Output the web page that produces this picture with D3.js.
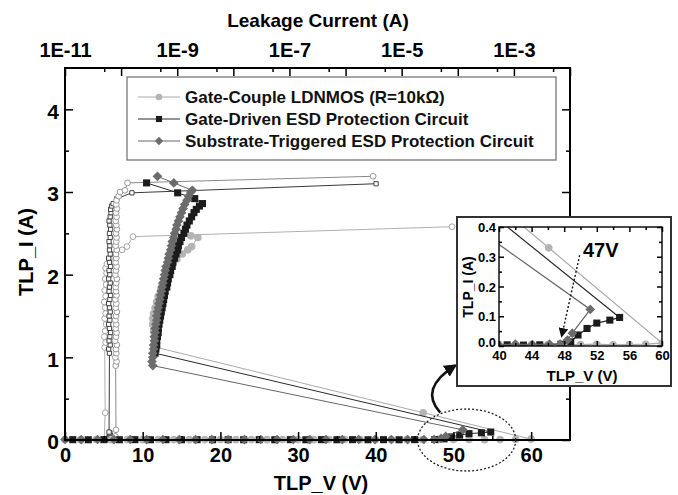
<!DOCTYPE html>
<html>
<head>
<meta charset="utf-8">
<script src="https://cdn.jsdelivr.net/npm/d3@7"></script>
<style>
  body { margin: 0; background: #fff; }
  svg { display: block; font-family: "Liberation Sans", Arial, sans-serif; }
</style>
</head>
<body>
<svg id="chart" width="678" height="495"></svg>
<script>
// ---- series labels ----
const legendLabels = [
  'Gate-Couple LDNMOS (R=10k\u03A9)',
  'Gate-Driven ESD Protection Circuit',
  'Substrate-Triggered ESD Protection Circuit'
];

// ---- TLP I-V data: [TLP_V (V), TLP_I (A)] ----
const gcTLP = [
  [0,0.005],[2,0.004],[4,0.006],[6,0.004],[8,0.005],[10,0.004],[12,0.006],[14,0.005],[16,0.004],[18,0.005],
  [20,0.006],[22,0.004],[24,0.005],[26,0.004],[28,0.006],[30,0.005],[32,0.004],[34,0.005],[36,0.006],[38,0.004],
  [40,0.005],[42,0.004],[44,0.006],[46,0.005],[48,0.004],[50,0.005],[52,0.006],[54,0.004],[56,0.005],[58,0.006],
  [60,0.010],[46.1,0.330],
  [11.8,1.12],[11.6,1.18],[11.5,1.25],[11.4,1.32],[11.3,1.40],[11.3,1.47],[11.4,1.53],[11.6,1.60],[11.8,1.67],
  [12.0,1.74],[12.3,1.81],[12.5,1.88],[12.8,1.95],[13.1,2.02],[13.5,2.08],[13.8,2.13],[14.4,2.19],[15.1,2.25],
  [15.8,2.30],[16.3,2.34],[17.1,2.45],[16.2,2.47]
];
const gdTLP = [
  [1,0.004],[3,0.003],[5,0.004],[7,0.003],[9,0.004],[11,0.003],[13,0.004],[15,0.003],[17,0.004],[19,0.003],
  [21,0.004],[23,0.003],[25,0.004],[27,0.003],[29,0.004],[31,0.003],[33,0.004],[35,0.003],[37,0.004],[39,0.003],
  [41,0.004],[43,0.003],[45,0.004],[47.6,0.006],[48.8,0.014],[49.7,0.037],[50.8,0.059],[52.0,0.077],[53.6,0.087],[54.8,0.096],
  [11.6,1.05],[11.7,1.10],[11.8,1.15],[11.8,1.20],[11.9,1.25],[12.0,1.30],[12.0,1.35],[12.1,1.40],[12.2,1.45],[12.3,1.50],
  [12.4,1.55],[12.5,1.60],[12.6,1.65],[12.7,1.70],[12.8,1.75],[12.9,1.80],[13.1,1.85],[13.2,1.90],[13.3,1.95],[13.5,2.00],
  [13.6,2.05],[13.8,2.10],[13.9,2.15],[14.1,2.20],[14.3,2.25],[14.5,2.30],[14.6,2.35],[14.8,2.40],[15.0,2.45],[15.3,2.50],
  [15.5,2.55],[15.7,2.60],[16.0,2.65],[16.3,2.70],[16.6,2.75],[16.9,2.79],[17.3,2.83],[17.7,2.86],[16.7,2.92],[14.5,2.99],
  [10.5,3.11]
];
const stTLP = [
  [0,0.006],[2.1,0.005],[4.2,0.006],[6.3,0.005],[8.4,0.006],[10.5,0.005],[12.6,0.006],[14.7,0.005],[16.8,0.006],[18.9,0.005],
  [21,0.006],[23.1,0.005],[25.2,0.006],[27.3,0.005],[29.4,0.006],[31.5,0.005],[33.6,0.006],[35.7,0.005],[37.8,0.006],[39.9,0.005],
  [42,0.006],[44.1,0.005],[46.2,0.006],[47.5,0.006],[48.4,0.020],[49.0,0.043],[51.2,0.123],
  [11.3,0.90],[11.2,0.95],[11.3,1.00],[11.3,1.05],[11.4,1.10],[11.4,1.15],[11.5,1.20],[11.5,1.25],[11.6,1.30],[11.6,1.35],
  [11.7,1.40],[11.8,1.45],[11.8,1.50],[11.9,1.55],[12.0,1.60],[12.1,1.65],[12.2,1.70],[12.3,1.75],[12.4,1.80],[12.5,1.85],
  [12.6,1.90],[12.7,1.95],[12.8,2.00],[12.9,2.05],[13.0,2.10],[13.2,2.15],[13.3,2.20],[13.4,2.25],[13.6,2.30],[13.7,2.35],
  [13.8,2.40],[14.0,2.45],[14.1,2.50],[14.3,2.55],[14.4,2.60],[14.6,2.65],[14.8,2.70],[15.0,2.75],[15.2,2.80],[15.4,2.85],
  [15.7,2.90],[15.9,2.95],[16.2,3.00],[16.4,3.02],[14.0,3.11],[11.9,3.19]
];

// ---- leakage data after each stress: [Leakage (A), TLP_I (A)] ----
const gcLeak = [
  [5.1e-11,0.004],[5.3e-11,0.006],[5.0e-11,0.010],[5.2e-11,0.330],
  [5.1e-11,1.12],[5.3e-11,1.18],[5.0e-11,1.25],[5.2e-11,1.32],[5.4e-11,1.40],[5.1e-11,1.47],[5.3e-11,1.53],
  [5.2e-11,1.60],[5.0e-11,1.67],[5.3e-11,1.74],[5.1e-11,1.81],[5.4e-11,1.88],[5.2e-11,1.95],[5.5e-11,2.02],
  [5.3e-11,2.08],[5.6e-11,2.13],[6.2e-11,2.19],[7.4e-11,2.25],[1.04e-10,2.30],[1.27e-10,2.34],[1.63e-10,2.46],
  [7.9e-5,2.58]
];
const gdLeak = [
  [6.0e-11,0.003],[6.2e-11,0.006],[6.3e-11,0.014],[6.1e-11,0.037],[6.4e-11,0.059],[6.2e-11,0.077],[6.3e-11,0.087],[6.1e-11,0.096],
  [6.2e-11,1.05],[6.0e-11,1.10],[6.4e-11,1.15],[6.1e-11,1.20],[6.3e-11,1.25],[6.5e-11,1.30],[6.2e-11,1.35],[6.0e-11,1.40],
  [6.3e-11,1.45],[6.1e-11,1.50],[6.4e-11,1.55],[6.2e-11,1.60],[6.0e-11,1.65],[6.3e-11,1.70],[6.5e-11,1.75],[6.1e-11,1.80],
  [6.2e-11,1.85],[6.4e-11,1.90],[6.0e-11,1.95],[6.3e-11,2.00],[6.1e-11,2.05],[6.5e-11,2.10],[6.2e-11,2.15],[6.0e-11,2.20],
  [6.4e-11,2.25],[6.2e-11,2.30],[6.3e-11,2.35],[6.1e-11,2.40],[6.4e-11,2.45],[6.2e-11,2.50],[6.5e-11,2.55],[6.3e-11,2.60],
  [6.1e-11,2.65],[6.4e-11,2.70],[6.6e-11,2.75],[6.5e-11,2.79],[6.8e-11,2.83],[7.2e-11,2.86],[8.4e-11,2.92],[1.56e-10,2.99],
  [3.5e-6,3.10]
];
const stLeak = [
  [8.0e-11,0.006],[8.2e-11,0.020],[7.9e-11,0.043],[8.1e-11,0.123],
  [8.0e-11,0.90],[8.3e-11,0.95],[7.9e-11,1.00],[8.2e-11,1.05],[8.1e-11,1.10],[8.4e-11,1.15],[7.8e-11,1.20],[8.1e-11,1.25],
  [8.3e-11,1.30],[8.0e-11,1.35],[8.2e-11,1.40],[7.9e-11,1.45],[8.1e-11,1.50],[8.4e-11,1.55],[8.0e-11,1.60],[8.2e-11,1.65],
  [7.9e-11,1.70],[8.3e-11,1.75],[8.1e-11,1.80],[8.0e-11,1.85],[8.2e-11,1.90],[8.4e-11,1.95],[7.9e-11,2.00],[8.1e-11,2.05],
  [8.3e-11,2.10],[8.0e-11,2.15],[8.2e-11,2.20],[8.1e-11,2.25],[8.4e-11,2.30],[8.0e-11,2.35],[8.2e-11,2.40],[8.3e-11,2.45],
  [8.1e-11,2.50],[8.4e-11,2.55],[8.2e-11,2.60],[8.0e-11,2.65],[8.3e-11,2.70],[8.1e-11,2.75],[8.4e-11,2.80],[8.2e-11,2.85],
  [8.3e-11,2.90],[9.0e-11,2.95],[9.6e-11,3.00],[1.17e-10,3.02],[1.3e-10,3.11],[3.1e-6,3.19]
];

// ---- axis ticks ----
const vMajor = [0,10,20,30,40,50,60], vMinor = [5,15,25,35,45,55];
const iMajor = [0,1,2,3,4], iMinor = [0.5,1.5,2.5,3.5];
const leakMajor = [1e-11,1e-10,1e-9,1e-8,1e-7,1e-6,1e-5,1e-4,1e-3,1e-2];
const leakMinor = [5e-11,5e-10,5e-9,5e-8,5e-7,5e-6,5e-5,5e-4,5e-3];
const leakLabelled = [1e-11,1e-9,1e-7,1e-5,1e-3];
const insetVMajor = [40,44,48,52,56,60], insetVMinor = [42,46,50,54,58];
const insetIMajor = [0,0.1,0.2,0.3,0.4], insetIMinor = [0.05,0.15,0.25,0.35];

// ---- annotation values ----
const triggerText = '47V';
const triggerArrowFrom = [49.9, 0.305];   // [V, A] in the inset
const triggerArrowTo = [47.7, 0.034];

const FONT = '"Liberation Sans", Arial, sans-serif';
const svg = d3.select('#chart');

const x = d3.scaleLinear().domain([0, 65]).range([65, 570]);
const y = d3.scaleLinear().domain([0, 4.5]).range([440, 68]);
const xLeak = d3.scaleLog().domain([1e-11, 1e-2]).range([65, 570]);

const diamond = d3.symbolDiamond2 || d3.symbolDiamond;
const series = [
  { label: legendLabels[0], tlp: gcTLP, leak: gcLeak, fill: '#b4b4b4', line: '#aaaaaa',
    symbol: d3.symbolCircle, size: 46, leakStroke: '#9c9c9c', leakLine: '#b0b0b0', leakSymbol: d3.symbolCircle, leakSize: 26 },
  { label: legendLabels[1], tlp: gdTLP, leak: gdLeak, fill: '#1c1c1c', line: '#2a2a2a',
    symbol: d3.symbolSquare, size: 50, leakStroke: '#333333', leakLine: '#3a3a3a', leakSymbol: d3.symbolSquare, leakSize: 18 },
  { label: legendLabels[2], tlp: stTLP, leak: stLeak, fill: '#6c6c6c', line: '#666666',
    symbol: diamond, size: 60, leakStroke: '#8c8c8c', leakLine: '#8a8a8a', leakSymbol: d3.symbolCircle, leakSize: 26 }
];

const defs = svg.append('defs');
defs.append('clipPath').attr('id', 'insetClip')
  .append('rect').attr('x', 499).attr('y', 227).attr('width', 163).attr('height', 119);
defs.append('marker').attr('id', 'headBig').attr('viewBox', '0 0 10 10')
  .attr('refX', 8).attr('refY', 5).attr('markerWidth', 5).attr('markerHeight', 5)
  .attr('markerUnits', 'strokeWidth').attr('orient', 'auto')
  .append('path').attr('d', 'M0,0 L10,5 L0,10 Z').attr('fill', '#111');
defs.append('marker').attr('id', 'headSmall').attr('viewBox', '0 0 10 10')
  .attr('refX', 8).attr('refY', 5).attr('markerWidth', 7).attr('markerHeight', 7)
  .attr('markerUnits', 'strokeWidth').attr('orient', 'auto')
  .append('path').attr('d', 'M0,0 L10,5 L0,10 Z').attr('fill', '#111');

function drawLineAndMarks(g, data, xs, ys, opt) {
  g.append('path').datum(data)
    .attr('fill', 'none').attr('stroke', opt.line).attr('stroke-width', opt.lw || 1)
    .attr('d', d3.line().x(d => xs(d[0])).y(d => ys(d[1])));
  g.selectAll(null).data(data).enter().append('path')
    .attr('transform', d => `translate(${xs(d[0])},${ys(d[1])})`)
    .attr('d', d3.symbol().type(opt.symbol).size(opt.size))
    .attr('fill', opt.open ? '#fff' : opt.fill)
    .attr('stroke', opt.open ? opt.stroke : 'none')
    .attr('stroke-width', opt.open ? 0.9 : 0);
}

function styleAxis(g, fontSize) {
  g.select('.domain').remove();
  g.selectAll('.tick line').attr('stroke', '#000').attr('stroke-width', 1.5);
  g.selectAll('.tick text').attr('fill', '#000').attr('font-size', fontSize)
    .attr('font-weight', 'bold').attr('font-family', FONT);
}

function addAxis(parent, gen, transform, values, size, pad, fmt, fontSize) {
  const g = parent.append('g').attr('transform', transform)
    .call(gen.tickValues(values).tickSize(size).tickPadding(pad).tickFormat(fmt));
  styleAxis(g, fontSize);
  return g;
}
const none = () => '';

// ---------- main plot ----------
const main = svg.append('g');

// leakage curves (top axis) then TLP curves (bottom axis)
series.forEach(s => drawLineAndMarks(main, s.leak, xLeak, y,
  { line: s.leakLine, symbol: s.leakSymbol, size: s.leakSize, open: true, stroke: s.leakStroke, lw: 1 }));
series.forEach(s => drawLineAndMarks(main, s.tlp, x, y,
  { line: s.line, symbol: s.symbol, size: s.size, fill: s.fill, lw: 1 }));

// frame
main.append('rect').attr('x', 65).attr('y', 68).attr('width', 505).attr('height', 372)
  .attr('fill', 'none').attr('stroke', '#000').attr('stroke-width', 2);

// axes with inward ticks
addAxis(main, d3.axisBottom(x), 'translate(0,440)', vMajor, -8, 8, d3.format('d'), 20);
addAxis(main, d3.axisBottom(x), 'translate(0,440)', vMinor, -4, 0, none, 20);
addAxis(main, d3.axisLeft(y), 'translate(65,0)', iMajor, -8, 6, d3.format('d'), 21)
  .selectAll('.tick text').attr('dy', '0.42em');
addAxis(main, d3.axisLeft(y), 'translate(65,0)', iMinor, -4, 0, none, 20);
addAxis(main, d3.axisRight(y), 'translate(570,0)', iMajor, -8, 0, none, 20);
addAxis(main, d3.axisRight(y), 'translate(570,0)', iMinor, -4, 0, none, 20);
const leakFmt = d => leakLabelled.some(v => Math.abs(v - d) / v < 1e-6) ? '1E' + Math.round(Math.log10(d)) : '';
addAxis(main, d3.axisTop(xLeak), 'translate(0,68)', leakMajor, -8, 11, leakFmt, 20);
addAxis(main, d3.axisTop(xLeak), 'translate(0,68)', leakMinor, -4, 0, none, 20);

// axis titles
main.append('text').attr('x', 318).attr('y', 27).attr('text-anchor', 'middle')
  .attr('font-size', 19).attr('font-weight', 'bold').attr('font-family', FONT).text('Leakage Current (A)');
main.append('text').attr('x', 321).attr('y', 490).attr('text-anchor', 'middle')
  .attr('font-size', 20).attr('font-weight', 'bold').attr('font-family', FONT).text('TLP_V (V)');
main.append('text').attr('transform', 'translate(33,252) rotate(-90)').attr('text-anchor', 'middle')
  .attr('font-size', 20).attr('font-weight', 'bold').attr('font-family', FONT).text('TLP_I (A)');

// legend
const lg = main.append('g');
lg.append('rect').attr('x', 127).attr('y', 77).attr('width', 429).attr('height', 83)
  .attr('fill', '#fff').attr('stroke', '#777').attr('stroke-width', 1.3);
series.forEach((s, i) => {
  const cy = 97 + i * 22;
  lg.append('line').attr('x1', 138).attr('x2', 180).attr('y1', cy).attr('y2', cy)
    .attr('stroke', s.line).attr('stroke-width', 1.2);
  lg.append('path').attr('transform', `translate(159,${cy})`)
    .attr('d', d3.symbol().type(s.symbol).size(s.size * 0.75)).attr('fill', s.fill);
  lg.append('text').attr('x', 185).attr('y', cy).attr('dy', '0.36em')
    .attr('font-size', 17).attr('font-weight', 'bold').attr('font-family', FONT).attr('fill', '#111')
    .text(s.label);
});

// dotted ellipse around the trigger region and curved pointer to the inset
main.append('ellipse').attr('cx', x(51.7)).attr('cy', y(0)).attr('rx', 49).attr('ry', 31)
  .attr('fill', 'none').attr('stroke', '#222').attr('stroke-width', 1.3).attr('stroke-dasharray', '2,2');
main.append('path')
  .attr('d', `M${x(48.3)},${y(0.33)} Q${x(45.5)},${y(0.62)} ${x(50.2)},${y(0.9)}`)
  .attr('fill', 'none').attr('stroke', '#111').attr('stroke-width', 2.6)
  .attr('marker-end', 'url(#headBig)');

// ---------- inset ----------
const ix = d3.scaleLinear().domain([40, 60]).range([499, 662]);
const iy = d3.scaleLinear().domain([0, 0.4]).range([346, 227]);
const inset = svg.append('g');
inset.append('rect').attr('x', 457).attr('y', 217).attr('width', 214).attr('height', 169)
  .attr('fill', '#fff').attr('stroke', '#333').attr('stroke-width', 2);

const insetData = inset.append('g').attr('clip-path', 'url(#insetClip)');
series.forEach(s => drawLineAndMarks(insetData, s.tlp, ix, iy,
  { line: s.line, symbol: s.symbol, size: s.size, fill: s.fill, lw: 1.2 }));

inset.append('rect').attr('x', 499).attr('y', 227).attr('width', 163).attr('height', 119)
  .attr('fill', 'none').attr('stroke', '#111').attr('stroke-width', 1.5);

addAxis(inset, d3.axisBottom(ix), 'translate(0,346)', insetVMajor, -5, 5, d3.format('d'), 13);
addAxis(inset, d3.axisBottom(ix), 'translate(0,346)', insetVMinor, -3, 0, none, 13);
addAxis(inset, d3.axisTop(ix), 'translate(0,227)', insetVMajor, -5, 0, none, 13);
addAxis(inset, d3.axisTop(ix), 'translate(0,227)', insetVMinor, -3, 0, none, 13);
const insetLeft = addAxis(inset, d3.axisLeft(iy), 'translate(499,0)', insetIMajor, -5, 3, d3.format('.1f'), 13);
insetLeft.selectAll('.tick text').attr('dy', d => d === 0 ? '0.05em' : '0.36em');
addAxis(inset, d3.axisLeft(iy), 'translate(499,0)', insetIMinor, -3, 0, none, 13);
addAxis(inset, d3.axisRight(iy), 'translate(662,0)', insetIMajor, -5, 0, none, 13);
addAxis(inset, d3.axisRight(iy), 'translate(662,0)', insetIMinor, -3, 0, none, 13);

inset.append('text').attr('x', 582).attr('y', 381).attr('text-anchor', 'middle')
  .attr('font-size', 15).attr('font-weight', 'bold').attr('font-family', FONT).text('TLP_V (V)');
inset.append('text').attr('transform', 'translate(473,287) rotate(-90)').attr('text-anchor', 'middle')
  .attr('font-size', 14).attr('font-weight', 'bold').attr('font-family', FONT).text('TLP_I (A)');

inset.append('text').attr('x', ix(50.3)).attr('y', iy(0.298))
  .attr('font-size', 20).attr('font-weight', 'bold').attr('font-family', FONT).text(triggerText);
inset.append('line')
  .attr('x1', ix(triggerArrowFrom[0])).attr('y1', iy(triggerArrowFrom[1]))
  .attr('x2', ix(triggerArrowTo[0])).attr('y2', iy(triggerArrowTo[1]))
  .attr('stroke', '#111').attr('stroke-width', 1.4).attr('stroke-dasharray', '2,2')
  .attr('marker-end', 'url(#headSmall)');
</script>
</body>
</html>
